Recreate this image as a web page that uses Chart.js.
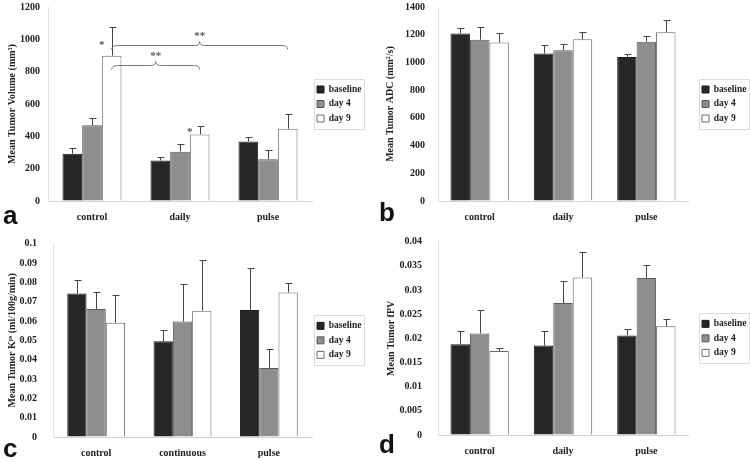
<!DOCTYPE html>
<html>
<head>
<meta charset="utf-8">
<script src="https://cdn.jsdelivr.net/npm/chart.js@4/dist/chart.umd.min.js"></script>
<style>
  body { margin: 0; background: #fff; width: 750px; height: 462px; position: relative; overflow: hidden; }
  .panel { position: absolute; width: 375px; height: 231px; }
  .tag { position: absolute; font: bold 26px "Liberation Sans", Arial, sans-serif; color: #111; line-height: 1; }
</style>
</head>
<body>
<div class="panel" style="left:0;top:0"><canvas id="chartA" width="375" height="231"></canvas><div class="tag" style="left:3px;top:202px">a</div></div>
<div class="panel" style="left:375px;top:0"><canvas id="chartB" width="375" height="231"></canvas><div class="tag" style="left:4px;top:199px">b</div></div>
<div class="panel" style="left:0;top:231px"><canvas id="chartC" width="375" height="231"></canvas><div class="tag" style="left:3px;top:204px">c</div></div>
<div class="panel" style="left:375px;top:231px"><canvas id="chartD" width="375" height="231"></canvas><div class="tag" style="left:4px;top:200px">d</div></div>
<script>
const seriesNames = ["baseline", "day 4", "day 9"];
const groups = ["control", "daily", "pulse"];
const groupsC = ["control", "continuous", "pulse"];

// a: tumor volume
const volumeBaseline = [292, 251, 368];
const volumeDay4 = [469, 305, 259];
const volumeDay9 = [899, 412, 447];
const volumeBaselineErr = [33, 21, 25];
const volumeDay4Err = [47, 45, 54];
const volumeDay9Err = [177, 53, 94];
const volumeTicks = [0, 200, 400, 600, 800, 1000, 1200];

// b: ADC
const adcBaseline = [1208, 1064, 1040];
const adcDay4 = [1164, 1088, 1150];
const adcDay9 = [1143, 1167, 1217];
const adcBaselineErr = [43, 60, 24];
const adcDay4Err = [92, 48, 38];
const adcDay9Err = [69, 50, 92];
const adcTicks = [0, 200, 400, 600, 800, 1000, 1200, 1400];

// c: Kps
const kpsBaseline = [0.0743, 0.0495, 0.0657];
const kpsDay4 = [0.0662, 0.0597, 0.0357];
const kpsDay9 = [0.0591, 0.0653, 0.0748];
const kpsBaselineErr = [0.0067, 0.0057, 0.0215];
const kpsDay4Err = [0.0086, 0.0196, 0.0096];
const kpsDay9Err = [0.0142, 0.0261, 0.0047];
const kpsTicks = [0, 0.01, 0.02, 0.03, 0.04, 0.05, 0.06, 0.07, 0.08, 0.09, 0.1];

// d: fPV
const fpvBaseline = [0.0188, 0.0185, 0.0206];
const fpvDay4 = [0.021, 0.0273, 0.0325];
const fpvDay9 = [0.0174, 0.0326, 0.0225];
const fpvBaselineErr = [0.0027, 0.0031, 0.0014];
const fpvDay4Err = [0.0049, 0.0045, 0.0027];
const fpvDay9Err = [0.0006, 0.0053, 0.0016];
const fpvTicks = [0, 0.005, 0.01, 0.015, 0.02, 0.025, 0.03, 0.035, 0.04];

// significance marks on panel a: [group, series, value]
const volumeStars = [[0, 2, 977], [1, 2, 439]];
const volumeBraces = [
  { from: [0, 2], to: [2, 2], value: 965, label: "**" },
  { from: [0, 2], to: [1, 2], value: 841, label: "**" }
];

const fills = ["#262626", "#8e8e8e", "#ffffff"];
const borders = ["#1a1a1a", "#5a5a5a", "#6a6a6a"];
const serif = "'Liberation Serif', 'Times New Roman', serif";
const textColor = "#222";

const errorBars = {
  id: "errorBars",
  afterDatasetsDraw(chart) {
    const ctx = chart.ctx;
    const y = chart.scales.y;
    chart.data.datasets.forEach((ds, i) => {
      chart.getDatasetMeta(i).data.forEach((bar, j) => {
        const x = Math.round(bar.x) + 0.5;
        const top = Math.round(y.getPixelForValue(ds.data[j] + ds.errors[j])) + 0.5;
        ctx.save();
        ctx.strokeStyle = "#444";
        ctx.lineWidth = 1;
        ctx.beginPath();
        ctx.moveTo(x, bar.y);
        ctx.lineTo(x, top);
        ctx.moveTo(x - 3, top);
        ctx.lineTo(x + 4, top);
        ctx.stroke();
        ctx.restore();
      });
    });
  }
};

// push the legend away from the plot when the panel wants a gap
const legendGap = {
  id: "legendGap",
  afterLayout(chart, args, opts) {
    const gap = opts.gap || 0;
    chart.legend.left += gap;
    chart.legend.right += gap;
  }
};

const legendFrame = {
  id: "legendFrame",
  afterDraw(chart) {
    const boxes = chart.legend.legendHitBoxes;
    if (!boxes || !boxes.length) return;
    const left = Math.min(...boxes.map(b => b.left)) - 3;
    const top = Math.min(...boxes.map(b => b.top)) - 6;
    const right = Math.max(...boxes.map(b => b.left + b.width)) + 3;
    const bottom = Math.max(...boxes.map(b => b.top + b.height)) + 5;
    const ctx = chart.ctx;
    ctx.save();
    ctx.strokeStyle = "#dddddd";
    ctx.lineWidth = 1;
    ctx.strokeRect(Math.round(left) + 0.5, Math.round(top) + 0.5, Math.round(right - left), Math.round(bottom - top));
    ctx.restore();
  }
};

const significance = {
  id: "significance",
  afterDatasetsDraw(chart, args, opts) {
    if (!opts.stars) return;
    const ctx = chart.ctx;
    const y = chart.scales.y;
    const barX = (g, s) => chart.getDatasetMeta(s).data[g].x;
    ctx.save();
    ctx.fillStyle = "#555";
    ctx.strokeStyle = "#777";
    ctx.lineWidth = 1;
    ctx.font = "bold 11px " + serif;
    ctx.textAlign = "center";
    ctx.textBaseline = "middle";
    opts.stars.forEach(([g, s, v]) => {
      ctx.fillText("*", barX(g, s) - 10, y.getPixelForValue(v) + 2);
    });
    opts.braces.forEach(b => {
      const x1 = barX(b.from[0], b.from[1]);
      const x2 = barX(b.to[0], b.to[1]);
      const xm = (x1 + x2) / 2;
      const yy = Math.round(y.getPixelForValue(b.value)) + 0.5;
      ctx.beginPath();
      ctx.moveTo(x1, yy + 4);
      ctx.quadraticCurveTo(x1, yy, x1 + 6, yy);
      ctx.lineTo(xm - 5, yy);
      ctx.quadraticCurveTo(xm, yy, xm, yy - 4);
      ctx.quadraticCurveTo(xm, yy, xm + 5, yy);
      ctx.lineTo(x2 - 6, yy);
      ctx.quadraticCurveTo(x2, yy, x2, yy + 4);
      ctx.stroke();
      ctx.fillText(b.label, xm, yy - 9);
    });
    ctx.restore();
  }
};

function makeChart(id, labels, series, errors, ticks, title, layout) {
  const datasets = series.map((data, i) => ({
    label: seriesNames[i],
    data: data,
    errors: errors[i],
    backgroundColor: fills[i],
    borderColor: borders[i],
    borderWidth: 1,
    barPercentage: 1,
    categoryPercentage: layout.cat
  }));
  return new Chart(document.getElementById(id), {
    type: "bar",
    data: { labels: labels, datasets: datasets },
    plugins: [errorBars, legendGap, legendFrame, significance],
    options: {
      responsive: false,
      animation: false,
      devicePixelRatio: 1,
      layout: { padding: layout.padding },
      plugins: {
        tooltip: { enabled: false },
        legend: {
          position: "right",
          fullSize: false,
          labels: {
            boxWidth: 7,
            boxHeight: 7,
            padding: 5,
            color: textColor,
            font: { family: serif, size: 9.5, weight: "bold" }
          }
        },
        legendGap: { gap: layout.gap },
        significance: layout.marks || {}
      },
      scales: {
        x: {
          afterFit: scale => { scale.height = layout.xHeight; },
          grid: { display: false, drawTicks: false },
          border: { color: "#d4d4d4" },
          ticks: { color: textColor, padding: layout.xPad, font: { family: serif, size: 10, weight: "bold" } }
        },
        y: {
          min: ticks[0],
          max: ticks[ticks.length - 1],
          afterBuildTicks: scale => { scale.ticks = ticks.map(v => ({ value: v })); },
          afterFit: scale => { scale.width = layout.yWidth; },
          // invisible tick marks only set the gap between labels and axis
          grid: { drawOnChartArea: false, drawTicks: true, tickLength: layout.yGap, color: "rgba(0,0,0,0)" },
          border: { color: "#e0e0e0" },
          ticks: {
            color: textColor,
            padding: 1,
            font: { family: serif, size: 10, weight: "bold" },
            callback: v => String(+v.toFixed(4))
          },
          title: {
            display: true,
            text: title,
            color: textColor,
            padding: { top: layout.titlePad, bottom: 0 },
            font: { family: serif, size: 10, weight: "bold" }
          }
        }
      }
    }
  });
}

makeChart("chartA", groups,
  [volumeBaseline, volumeDay4, volumeDay9],
  [volumeBaselineErr, volumeDay4Err, volumeDay9Err],
  volumeTicks, "Mean Tumor Volume (mm\u00b3)",
  { padding: { left: 0, top: 7, right: 3.5, bottom: 0 }, xHeight: 30, gap: 0,
    yWidth: 48, yGap: 7, xPad: 10, titlePad: 6, cat: 0.67,
    marks: { stars: volumeStars, braces: volumeBraces } });

makeChart("chartB", groups,
  [adcBaseline, adcDay4, adcDay9],
  [adcBaselineErr, adcDay4Err, adcDay9Err],
  adcTicks, "Mean Tumor ADC (mm\u00b2/s)",
  { padding: { left: 0, top: 7, right: 2.5, bottom: 0 }, xHeight: 30, gap: 9,
    yWidth: 63, yGap: 12, xPad: 10, titlePad: 9, cat: 0.7 });

makeChart("chartC", groupsC,
  [kpsBaseline, kpsDay4, kpsDay9],
  [kpsBaselineErr, kpsDay4Err, kpsDay9Err],
  kpsTicks, "Mean Tumor K\u1d56\u02e2 (ml/100g/min)",
  { padding: { left: 0, top: 12.7, right: 3.5, bottom: 0 }, xHeight: 25, gap: 0,
    yWidth: 53, yGap: 15, xPad: 10, titlePad: 6, cat: 0.67 });

makeChart("chartD", groups,
  [fpvBaseline, fpvDay4, fpvDay9],
  [fpvBaselineErr, fpvDay4Err, fpvDay9Err],
  fpvTicks, "Mean Tumor fPV",
  { padding: { left: 0, top: 10.7, right: 2.5, bottom: 0 }, xHeight: 27, gap: 9,
    yWidth: 63, yGap: 15, xPad: 10, titlePad: 10, cat: 0.7 });
</script>
</body>
</html>
